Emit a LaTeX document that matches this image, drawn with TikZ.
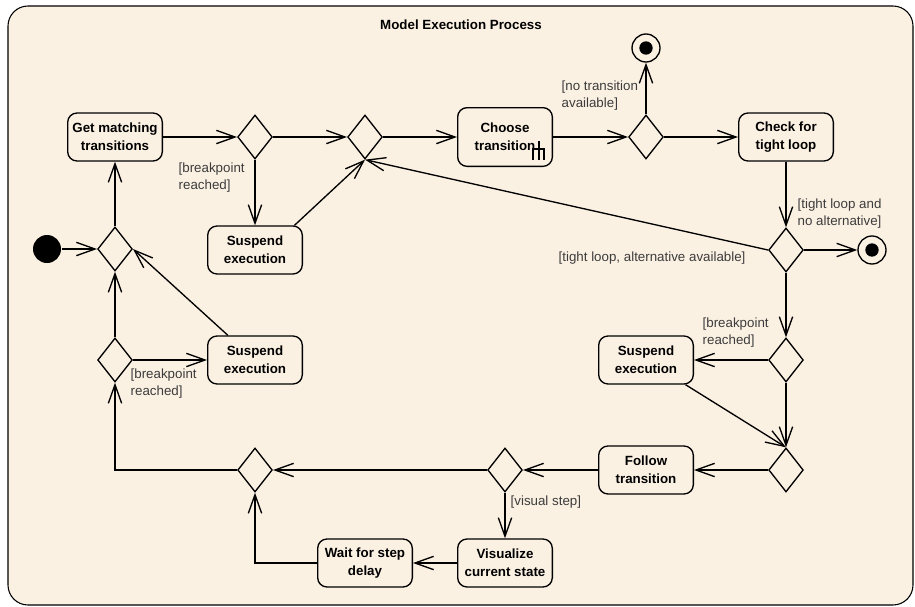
\documentclass[tikz,border=0pt]{standalone}
\usepackage{fontspec}
\setmainfont{Liberation Sans}
\usetikzlibrary{arrows.meta,shapes.geometric}
\definecolor{panel}{RGB}{251,241,227}
\definecolor{guardtext}{RGB}{60,60,60}

\begin{document}
\begin{tikzpicture}[x=0.75pt,y=-0.75pt,line width=1pt,
  act/.style={draw,rounded corners=7pt,minimum width=71pt,minimum height=36pt,
    align=center,inner sep=0pt,font=\fontsize{10}{13.5}\selectfont\bfseries},
  choice/.style={draw,diamond,minimum width=26pt,minimum height=33pt,inner sep=0pt},
  initial/.style={circle,fill,minimum size=21pt,inner sep=0pt},
  final/.style={circle,draw,minimum size=21pt,inner sep=0pt,
    path picture={\fill (path picture bounding box.center) circle (5pt);}},
  guard/.style={anchor=west,align=left,inner sep=0pt,text=guardtext,
    font=\fontsize{10}{12.75}\selectfont},
  flow/.style={-{Straight Barb[length=14pt,width=10pt]}}]
\useasboundingbox (0,0) rectangle (915,607);
\draw[fill=panel,line width=0.8pt,rounded corners=15pt] (8,6) rectangle (913,605);
\node[font=\fontsize{10}{12}\selectfont\bfseries] (title) at (461,25) {Model Execution Process};

\node[initial] (start) at (47,249) {};
\node[choice] (d1) at (115,249) {};
\node[act] (match) at (115,137) {Get matching\\transitions};
\node[choice] (d2) at (255,137) {};
\node[act] (susp1) at (255,250) {Suspend\\execution};
\node[choice] (d3) at (365,137) {};
\node[act,minimum height=44pt] (choose) at (505,137) {Choose\\transition};
\node[choice] (d4) at (646,137) {};
\node[final] (end1) at (646,48) {};
\node[act] (check) at (786,137) {Check for\\tight loop};
\node[choice] (d5) at (786,250) {};
\node[final] (end2) at (872,250) {};
\node[choice] (d6) at (786,360) {};
\node[act] (susp2) at (646,360) {Suspend\\execution};
\node[choice] (d7) at (786,470) {};
\node[act] (follow) at (646,470) {Follow\\transition};
\node[choice] (d8) at (505,470) {};
\node[act] (visual) at (505,563) {Visualize\\current state};
\node[act] (wait) at (365,563) {Wait for step\\delay};
\node[choice] (d9) at (255,470) {};
\node[choice] (d10) at (115,360) {};
\node[act] (susp3) at (255,360) {Suspend\\execution};

% rake on the call action
\begin{scope}[shift={(choose.center)},line width=0.8pt]
\draw (34,4) -- (34,23) (28,23) -- (28,12) -- (39,12) -- (39,23);
\end{scope}

\draw[flow] (start) -- (d1);
\draw[flow] (d1) -- (match);
\draw[flow] (match) -- (d2);
\draw[flow] (d2) -- (d3);
\draw[flow] (d2) -- (susp1);
\draw[flow] (susp1.32) -- (d3.south);
\draw[flow] (d3) -- (choose);
\draw[flow] (choose) -- (d4);
\draw[flow] (d4) -- (end1);
\draw[flow] (d4) -- (check);
\draw[flow] (check) -- (d5);
\draw[flow] (d5) -- (end2);
\draw[flow] (d5.west) -- (d3.south);
\draw[flow] (d5) -- (d6);
\draw[flow] (d6) -- (susp2);
\draw[flow] (d6) -- (d7);
\draw[flow] (susp2) -- (d7.north);
\draw[flow] (d7) -- (follow);
\draw[flow] (follow) -- (d8);
\draw[flow] (d8) -- (d9);
\draw[flow] (d8) -- (visual);
\draw[flow] (visual) -- (wait);
\draw[flow] (wait) -| (d9);
\draw[flow] (d9) -| (d10);
\draw[flow] (d10) -- (susp3);
\draw[flow] (d10) -- (d1);
\draw[flow] (susp3) -- (d1.east);

\node[guard] (g1) at (178,178) {[breakpoint\\reached]};
\node[guard] (g2) at (561,96) {[no transition\\available]};
\node[guard] (g3) at (797,214) {[tight loop and\\no alternative]};
\node[guard] (g4) at (558,258) {[tight loop, alternative available]};
\node[guard] (g5) at (702,333) {[breakpoint\\reached]};
\node[guard] (g6) at (130,384) {[breakpoint\\reached]};
\node[guard] (g7) at (510,502) {[visual step]};
\end{tikzpicture}
\end{document}
